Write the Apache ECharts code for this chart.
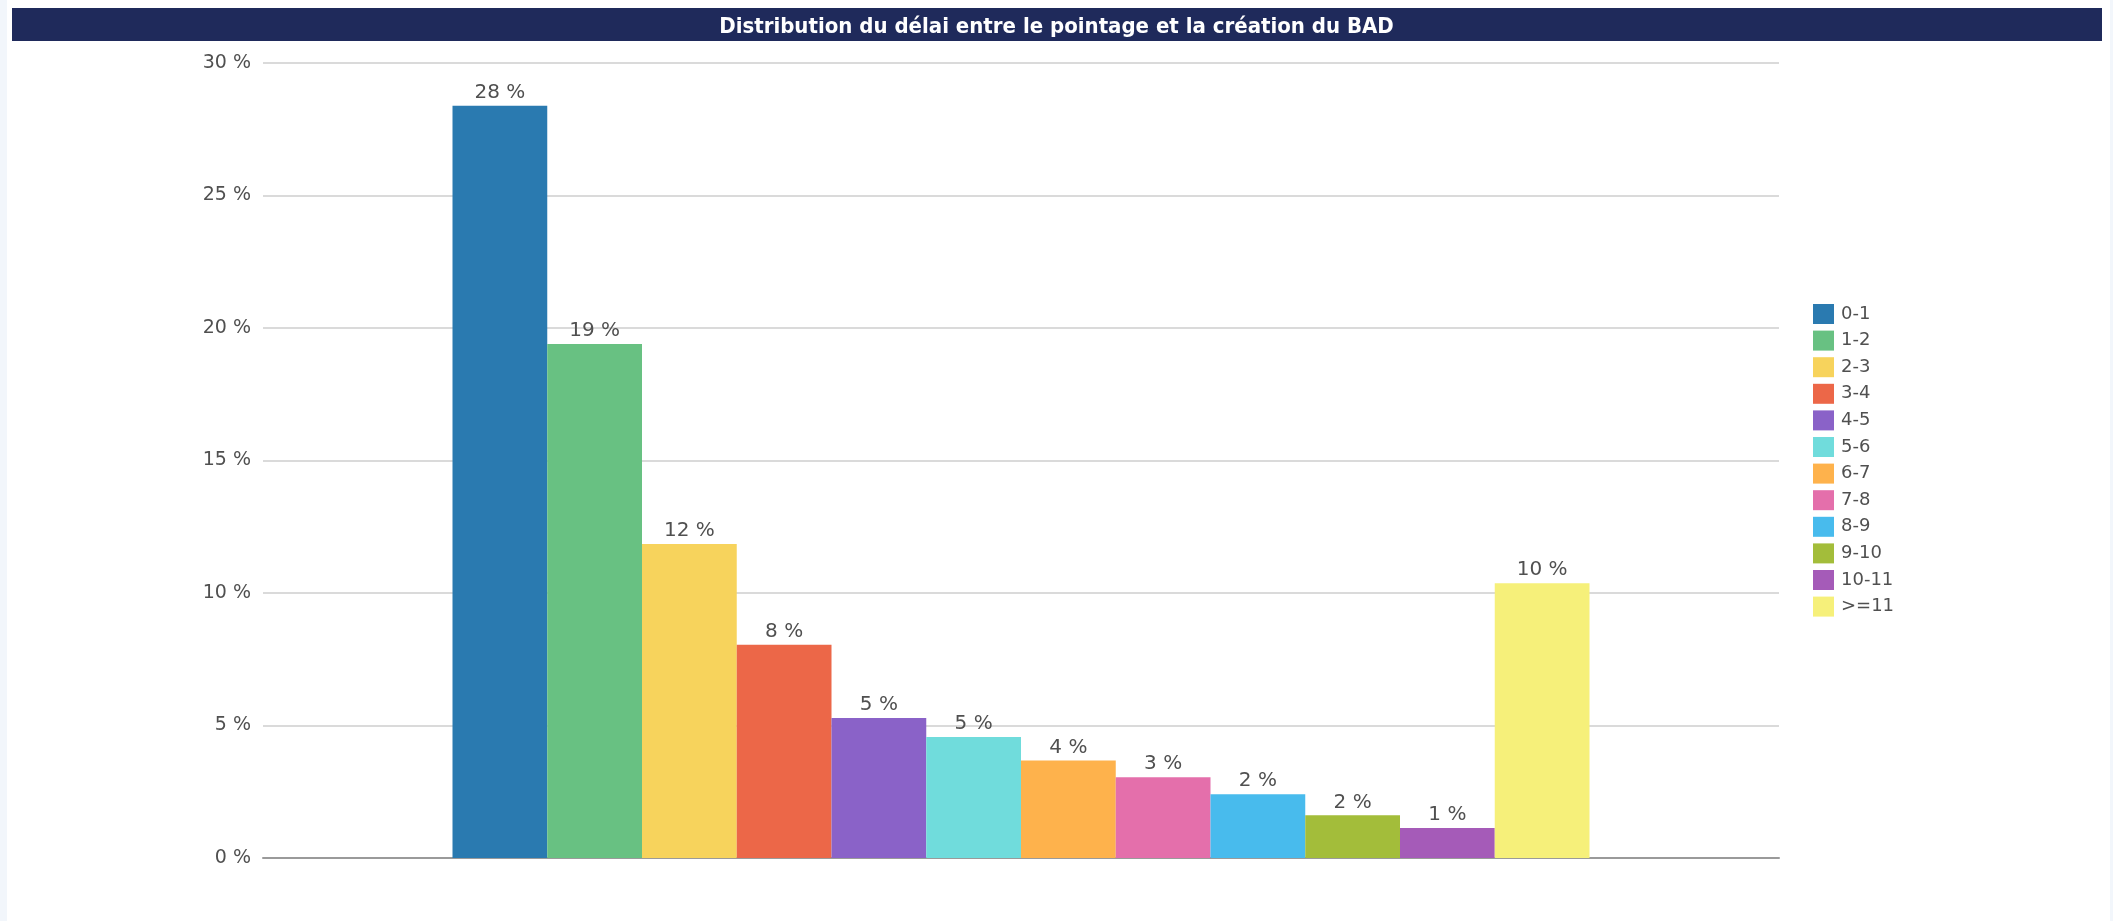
<!DOCTYPE html>
<html>
<head>
<meta charset="utf-8">
<script src="https://cdn.jsdelivr.net/npm/echarts@6/dist/echarts.min.js"></script>
<style>
html,body{margin:0;padding:0;background:#f2f6fb;}
#panel{position:absolute;left:7px;top:0;width:2103px;height:921px;background:#ffffff;}
#chart{position:absolute;left:0;top:0;width:2113px;height:921px;}
</style>
</head>
<body>
<div id="panel"></div>
<div id="chart"></div>
<script>
const titleText = 'Distribution du délai entre le pointage et la création du BAD';
const categories = ['0-1','1-2','2-3','3-4','4-5','5-6','6-7','7-8','8-9','9-10','10-11','>=11'];
const values = [28.39, 19.4, 11.85, 8.05, 5.28, 4.57, 3.68, 3.05, 2.41, 1.61, 1.13, 10.37];
const colors = ['#2a7ab0','#68c182','#f7d35c','#ec6748','#8a62c8','#70dcdc','#feb24c','#e46fab','#48bbed','#a3bd3a','#a55bb8','#f6f07a'];
const yTicks = [0, 5, 10, 15, 20, 25, 30];

const chart = echarts.init(document.getElementById('chart'), null, {renderer:'canvas'});
const font = "'DejaVu Sans', sans-serif";

const series = categories.map((c, i) => ({
  name: c,
  type: 'bar',
  data: [values[i]],
  itemStyle: {color: colors[i]},
  barGap: '0%',
  barCategoryGap: '25%',
  label: {
    show: true,
    position: 'top',
    distance: 3,
    color: '#505050',
    fontFamily: font,
    fontSize: 20,
    formatter: p => Math.round(p.value) + ' %'
  }
}));

chart.setOption({
  animation: false,
  backgroundColor: 'transparent',
  graphic: [{
    type: 'rect',
    shape: {x: 12, y: 8, width: 2090, height: 33},
    style: {fill: '#1f2a5b'},
    z: 0
  }],
  title: {
    text: titleText,
    left: 'center',
    top: 11,
    textStyle: {
      color: '#ffffff',
      fontFamily: "'Liberation Sans Narrow', 'DejaVu Sans Condensed', sans-serif",
      fontWeight: 'bold',
      fontSize: 22
    },
    z: 5
  },
  legend: {
    orient: 'vertical',
    left: 1808,
    top: 299,
    itemWidth: 21,
    itemHeight: 20,
    itemGap: 6.6,
    icon: 'rect',
    textStyle: {color: '#505050', fontFamily: font, fontSize: 18, padding: [0,0,0,2]},
    data: categories
  },
  grid: {left: 263, right: 334, top: 63, bottom: 63},
  xAxis: {
    type: 'category',
    data: [''],
    axisLine: {show: true, lineStyle: {color: '#9a9a9a', width: 2}},
    axisTick: {show: false},
    axisLabel: {show: false}
  },
  yAxis: {
    type: 'value',
    min: yTicks[0],
    max: yTicks[yTicks.length - 1],
    interval: 5,
    axisLine: {show: false},
    axisTick: {show: false},
    splitLine: {lineStyle: {color: '#dadada', width: 2}},
    axisLabel: {color: '#505050', fontFamily: font, fontSize: 19, margin: 12, formatter: '{value} %'}
  },
  series: series
});
</script>
</body>
</html>
